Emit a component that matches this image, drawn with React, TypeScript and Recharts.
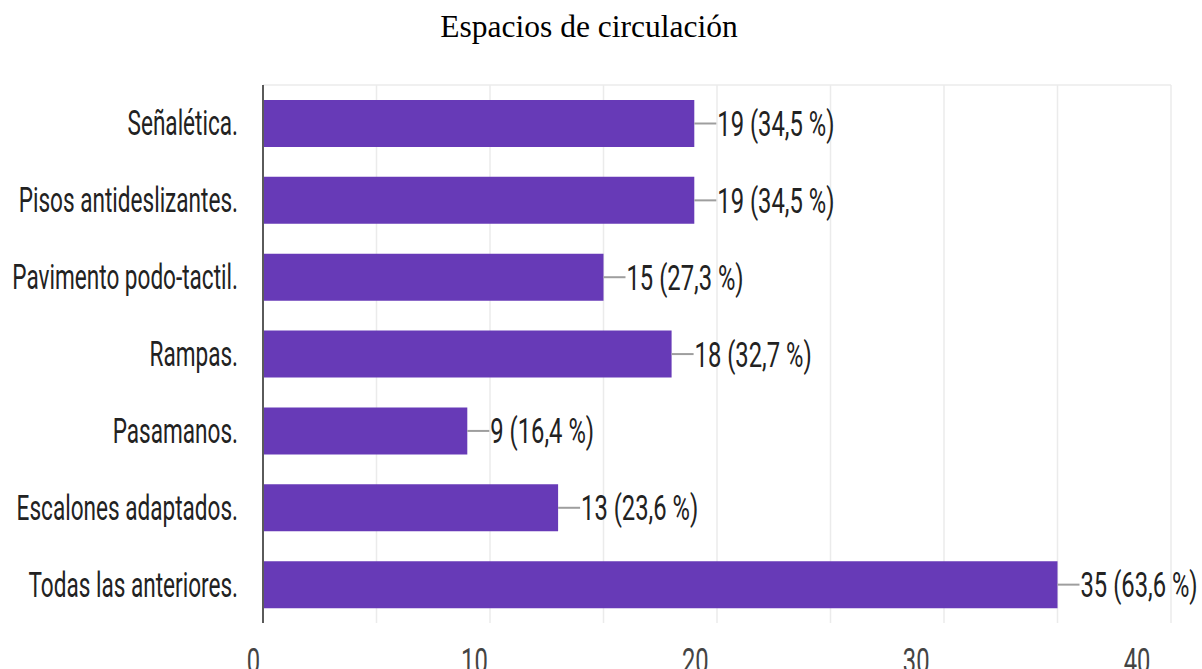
import React from "react";
import { BarChart, Bar, XAxis, YAxis, CartesianGrid, LabelList } from "recharts";

const categories = [
  "Señalética.",
  "Pisos antideslizantes.",
  "Pavimento podo-tactil.",
  "Rampas.",
  "Pasamanos.",
  "Escalones adaptados.",
  "Todas las anteriores.",
];
const counts = [19, 19, 15, 18, 9, 13, 35];
const percents = ["34,5", "34,5", "27,3", "32,7", "16,4", "23,6", "63,6"];
const gridTicks = [0, 5, 10, 15, 20, 25, 30, 35, 40];
const labeledTicks = [0, 10, 20, 30, 40];
const title = "Espacios de circulación";

const data = categories.map((name, i) => ({ name, value: counts[i], pct: percents[i] }));

const W = 1202;
const H = 669;
const SX_CAT = 0.645;
const SX_VAL = 0.68;
const FONT = "Roboto, 'Noto Sans', sans-serif";
const FS = 35;

const CategoryTick = (props: any) => {
  const { x, y, payload } = props;
  return (
    <text
      transform={`translate(${x - 25},${y + 12}) scale(${SX_CAT},1)`}
      textAnchor="end"
      fontFamily={FONT}
      fontSize={FS}
      fill="#222"
    >
      {payload.value}
    </text>
  );
};

const NumberTick = (props: any) => {
  const { x, y, payload } = props;
  const v = payload.value;
  if (!labeledTicks.includes(v)) return null;
  const cx = x - 9.5 - 0.61 * v;
  return (
    <text
      transform={`translate(${cx},${y + 50}) scale(${SX_VAL},1)`}
      textAnchor="middle"
      fontFamily={FONT}
      fontSize={FS}
      fill="#444"
    >
      {v}
    </text>
  );
};

const ValueLabel = (props: any) => {
  const { x, y, width, height, index } = props;
  const end = x + width;
  const cy = y + height / 2;
  const d = data[index];
  return (
    <g>
      <line x1={end} y1={cy} x2={end + 22} y2={cy} stroke="#9e9e9e" strokeWidth={2} />
      <text
        transform={`translate(${end + 23},${cy + 12.5}) scale(${SX_VAL},1)`}
        textAnchor="start"
        fontFamily={FONT}
        fontSize={FS}
        fill="#222"
      >
        {`${d.value} (${d.pct} %)`}
      </text>
    </g>
  );
};

export default function App() {
  return (
    <div style={{ position: "absolute", left: 0, top: 0, width: W, height: H, background: "#fff", overflow: "hidden" }}>
      <svg width={W} height={60} style={{ position: "absolute", left: 0, top: 0 }}>
        <text x={589} y={37} textAnchor="middle" fontFamily="'Liberation Serif', 'DejaVu Serif', serif" fontSize={31.5} fill="#000">
          {title}
        </text>
      </svg>
      <div style={{ position: "absolute", left: 0, top: 0 }}>
        <BarChart
          width={W}
          height={H}
          data={data}
          layout="vertical"
          margin={{ top: 85, right: 31, bottom: 0, left: 0 }}
        >
          <CartesianGrid
            stroke="#ebebeb"
            strokeWidth={1.5}
            vertical={true}
            horizontal={true}
            horizontalCoordinatesGenerator={({ offset }: any) => [offset.top]}
          />
          <XAxis
            type="number"
            domain={[0, 40]}
            ticks={gridTicks}
            interval={0}
            axisLine={false}
            tickLine={false}
            tickSize={0}
            tickMargin={0}
            height={46}
            tick={<NumberTick />}
          />
          <YAxis
            type="category"
            dataKey="name"
            width={263}
            axisLine={{ stroke: "#5a5a5a", strokeWidth: 2 }}
            tickLine={false}
            tickSize={0}
            tickMargin={0}
            interval={0}
            tick={<CategoryTick />}
          />
          <Bar dataKey="value" fill="#673ab7" barSize={47} isAnimationActive={false}>
            <LabelList dataKey="value" content={<ValueLabel />} />
          </Bar>
        </BarChart>
      </div>
    </div>
  );
}
